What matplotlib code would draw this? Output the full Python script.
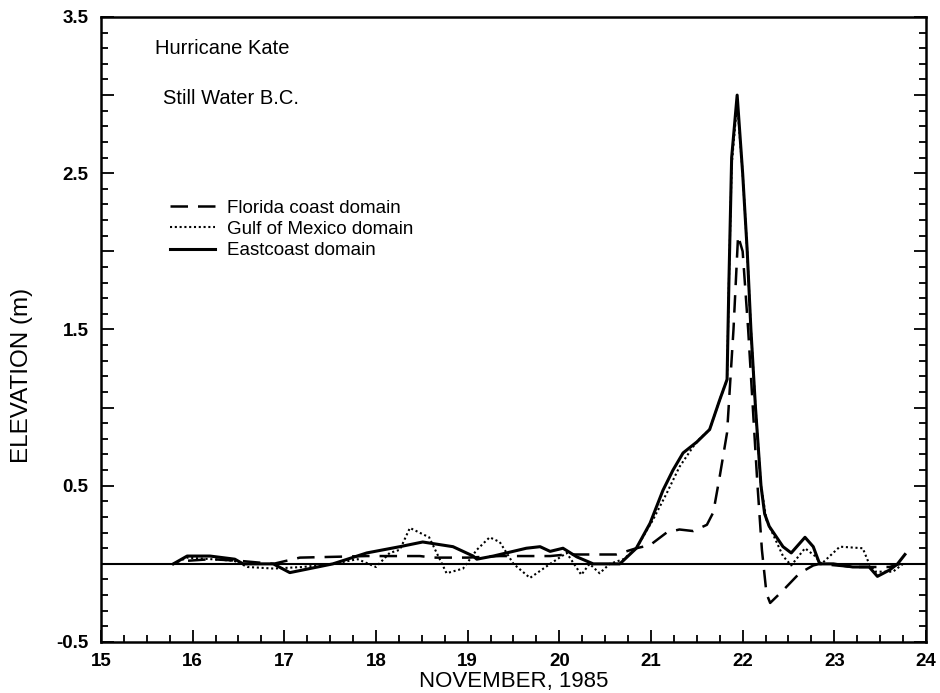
import matplotlib
matplotlib.use("Agg")
import matplotlib.pyplot as plt
from matplotlib.ticker import MultipleLocator, FuncFormatter

plt.rcParams['font.family'] = ['Liberation Sans', 'DejaVu Sans']

# Florida coast domain (dashed)
fl_day = [15.95, 16.2, 16.5, 16.88, 17.17, 17.9, 18.48, 18.62, 19.0, 19.35, 19.9, 20.08,
          20.62, 20.84, 20.99, 21.17, 21.31, 21.46, 21.61, 21.68, 21.75, 21.83, 21.9, 21.95,
          22.0, 22.06, 22.16, 22.21, 22.26, 22.3, 22.44, 22.62, 22.77, 22.84, 23.2, 23.6, 23.72]
fl_elev = [0.02, 0.03, 0.02, 0.0, 0.04, 0.05, 0.05, 0.04, 0.04, 0.05, 0.05, 0.06,
           0.06, 0.1, 0.12, 0.2, 0.22, 0.21, 0.25, 0.33, 0.56, 0.84, 1.5, 2.1,
           2.0, 1.5, 0.52, 0.09, -0.19, -0.25, -0.17, -0.06, -0.01, 0.0, -0.02, -0.02, 0.0]

# Gulf of Mexico domain (dotted)
gm_day = [15.79, 15.94, 16.2, 16.45, 16.6, 16.88, 17.2, 17.53, 17.8, 18.0, 18.15, 18.26,
          18.37, 18.51, 18.58, 18.77, 18.95, 19.1, 19.24, 19.35, 19.5, 19.68, 19.9, 20.08,
          20.24, 20.33, 20.44, 20.55, 20.7, 20.84, 21.02, 21.17, 21.31, 21.46, 21.53, 21.64,
          21.75, 21.83, 21.85, 21.88, 21.94, 22.0, 22.05, 22.09, 22.14, 22.2, 22.26, 22.44, 22.53,
          22.68, 22.79, 22.86, 23.06, 23.31, 23.38, 23.45, 23.64, 23.75]
gm_elev = [0.0, 0.04, 0.03, 0.02, -0.02, -0.03, -0.02, 0.0, 0.03, -0.02, 0.07, 0.09,
           0.23, 0.19, 0.17, -0.06, -0.03, 0.09, 0.17, 0.14, 0.0, -0.09, 0.0, 0.07,
           -0.07, 0.0, -0.06, 0.0, 0.03, 0.1, 0.28, 0.45, 0.62, 0.75, 0.8, 0.86,
           1.05, 1.18, 1.8, 2.55, 2.95, 2.5, 2.0, 1.5, 1.0, 0.5, 0.28, 0.05, -0.01,
           0.1, 0.05, 0.0, 0.11, 0.1, 0.0, -0.05, -0.05, 0.0]

# Eastcoast domain (solid)
ec_day = [15.79, 15.94, 16.19, 16.46, 16.55, 16.88, 17.06, 17.53, 17.9, 18.26, 18.51, 18.62,
          18.84, 19.06, 19.1, 19.28, 19.46, 19.64, 19.79, 19.9, 20.04, 20.19, 20.37, 20.66,
          20.84, 20.99, 21.13, 21.24, 21.35, 21.5, 21.64, 21.75, 21.83, 21.85, 21.88, 21.94,
          22.0, 22.05, 22.09, 22.14, 22.2, 22.24, 22.29, 22.44, 22.53, 22.68, 22.77, 22.84, 22.99,
          23.2, 23.38, 23.47, 23.6, 23.69, 23.77]
ec_elev = [0.0, 0.05, 0.05, 0.03, 0.0, 0.0, -0.056, 0.0, 0.07, 0.11, 0.14, 0.13,
           0.11, 0.05, 0.03, 0.05, 0.075, 0.1, 0.11, 0.08, 0.1, 0.045, 0.0, 0.0,
           0.1, 0.26, 0.47, 0.6, 0.71, 0.78, 0.86, 1.05, 1.18, 1.8, 2.6, 3.0,
           2.5, 2.0, 1.5, 1.0, 0.5, 0.32, 0.24, 0.11, 0.07, 0.17, 0.11, 0.0, 0.0,
           -0.02, -0.02, -0.08, -0.04, 0.0, 0.06]

fig = plt.figure(figsize=(9.4, 6.93), dpi=100)
ax = fig.add_axes([0.1074, 0.0736, 0.8777, 0.9019])

ax.axhline(0, color='black', lw=1.5)
ax.plot(fl_day, fl_elev, color='black', lw=1.8, ls=(0, (7, 4)), label='Florida coast domain')
ax.plot(gm_day, gm_elev, color='black', lw=1.5, ls=(0, (1, 1.3)), label='Gulf of Mexico domain')
ax.plot(ec_day, ec_elev, color='black', lw=2.2, label='Eastcoast domain')

ax.set_xlim(15, 24)
ax.set_ylim(-0.5, 3.5)
ax.xaxis.set_major_locator(MultipleLocator(1))
ax.xaxis.set_minor_locator(MultipleLocator(0.25))
ax.yaxis.set_major_locator(MultipleLocator(0.5))
ax.yaxis.set_minor_locator(MultipleLocator(0.1))
ax.yaxis.set_major_formatter(FuncFormatter(
    lambda v, p: '' if abs(v - round(v)) < 1e-6 else f'{v:.1f}'))

ax.tick_params(which='both', direction='in', top=False, right=True, width=1.3)
ax.tick_params(which='major', length=9, labelsize=13.5)
ax.tick_params(axis='x', which='major', pad=8)
ax.tick_params(axis='y', which='major', pad=9)
ax.tick_params(which='minor', length=5)
for lab in ax.get_xticklabels() + ax.get_yticklabels():
    lab.set_fontweight('bold')
for s in ax.spines.values():
    s.set_linewidth(1.8)

ax.set_xlabel('NOVEMBER, 1985', fontsize=16, labelpad=1)
ax.set_ylabel('ELEVATION (m)', fontsize=17.5)
ax.yaxis.set_label_coords(-0.082, 0.426)

ax.text(0.065, 0.94, 'Hurricane Kate', transform=ax.transAxes, fontsize=14.5)
ax.text(0.075, 0.86, 'Still Water B.C.', transform=ax.transAxes, fontsize=14.5)

ax.legend(loc='upper left', bbox_to_anchor=(0.072, 0.723), frameon=False, fontsize=13.5,
          handlelength=2.4, handletextpad=0.65, labelspacing=0.22, borderpad=0)

fig.savefig('out.png', dpi=100)
